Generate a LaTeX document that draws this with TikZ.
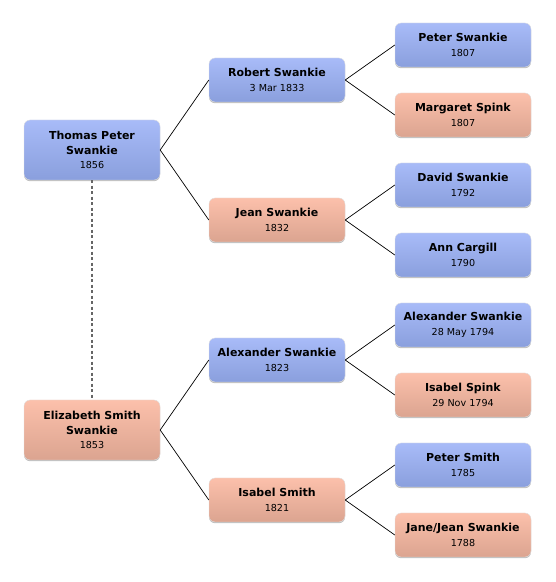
\documentclass[tikz,border=0pt]{standalone}
\usepackage{fontspec}
\setmainfont{DejaVu Sans}
\definecolor{maletop}{RGB}{168,187,248}
\definecolor{malebot}{RGB}{138,159,221}
\definecolor{femtop}{RGB}{252,192,171}
\definecolor{fembot}{RGB}{219,164,144}
\usetikzlibrary{shadows}
\newcommand{\pname}[1]{\textbf{#1}}
\newcommand{\pyear}[1]{{\fontsize{9.6}{14}\selectfont #1}}

\begin{document}
\begin{tikzpicture}[x=1pt, y=1pt,
  person/.style={rounded corners=6pt, minimum width=136pt, minimum height=44pt, align=center, inner sep=2pt,
    font=\fontsize{11}{14.5}\selectfont, draw=black!12, line width=0.4pt,
    drop shadow={shadow xshift=0pt, shadow yshift=-1.2pt, opacity=0.25, fill=black}},
  male/.style={person, top color=maletop, bottom color=malebot},
  female/.style={person, top color=femtop, bottom color=fembot},
  tall/.style={minimum height=60pt},
  link/.style={draw=black, line width=0.7pt},
  spouse/.style={draw=black!60, line width=1.2pt, dash pattern=on 3pt off 2.5pt}]
  \useasboundingbox (0,0) rectangle (556,582);
  % generation 0
  \node[male, tall] (thomas) at (92,432) {\pname{Thomas Peter}\\\pname{Swankie}\\\pyear{1856}};
  \node[female, tall] (elizabeth) at (92,152) {\pname{Elizabeth Smith}\\\pname{Swankie}\\\pyear{1853}};
  % generation 1
  \node[male] (robert) at (277,502) {\pname{Robert Swankie}\\\pyear{3 Mar 1833}};
  \node[female] (jean) at (277,362) {\pname{Jean Swankie}\\\pyear{1832}};
  \node[male] (alexander) at (277,222) {\pname{Alexander Swankie}\\\pyear{1823}};
  \node[female] (isabelsmith) at (277,82) {\pname{Isabel Smith}\\\pyear{1821}};
  % generation 2
  \node[male] (peter) at (463,537) {\pname{Peter Swankie}\\\pyear{1807}};
  \node[female] (margaret) at (463,467) {\pname{Margaret Spink}\\\pyear{1807}};
  \node[male] (david) at (463,397) {\pname{David Swankie}\\\pyear{1792}};
  \node[male] (ann) at (463,327) {\pname{Ann Cargill}\\\pyear{1790}};
  \node[male] (alexsenior) at (463,257) {\pname{Alexander Swankie}\\\pyear{28 May 1794}};
  \node[female] (isabelspink) at (463,187) {\pname{Isabel Spink}\\\pyear{29 Nov 1794}};
  \node[male] (petersmith) at (463,117) {\pname{Peter Smith}\\\pyear{1785}};
  \node[female] (janejean) at (463,47) {\pname{Jane/Jean Swankie}\\\pyear{1788}};
  % connectors
  \foreach \parent/\child in {thomas/robert, thomas/jean, elizabeth/alexander, elizabeth/isabelsmith,
      robert/peter, robert/margaret, jean/david, jean/ann,
      alexander/alexsenior, alexander/isabelspink, isabelsmith/petersmith, isabelsmith/janejean}
    \draw[link] (\parent.east) -- (\child.west);
  \draw[spouse] (thomas.south) -- (elizabeth.north);
\end{tikzpicture}
\end{document}
